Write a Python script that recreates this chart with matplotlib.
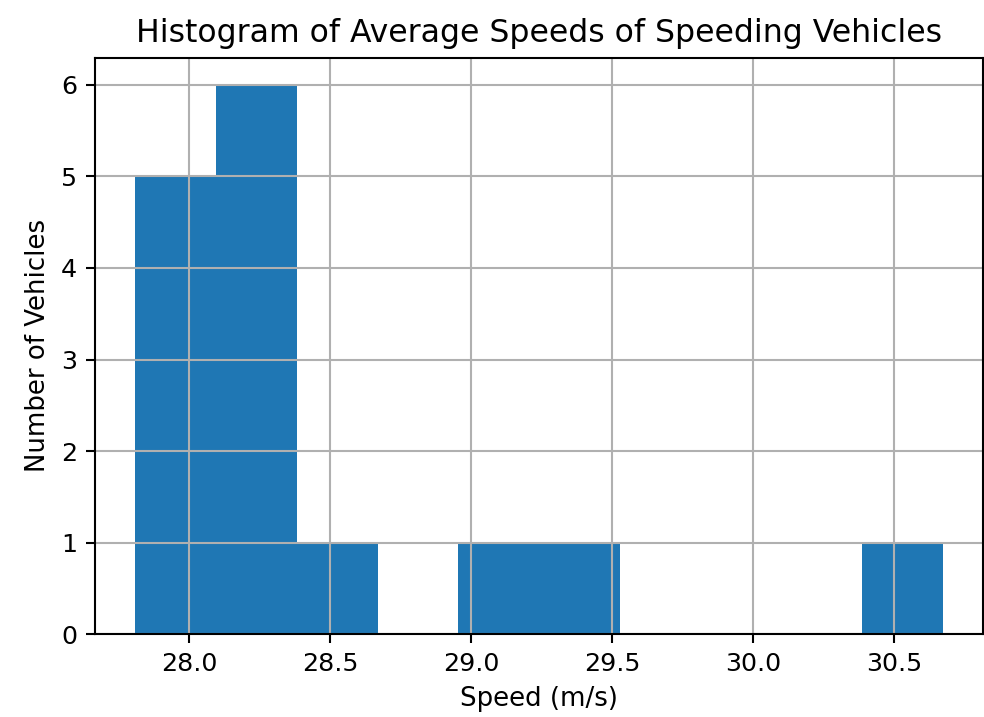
import numpy as np
import matplotlib; matplotlib.use("Agg"); import matplotlib.pyplot as plt

# histogram: 10 equal bins
bin_edges=[27.809,28.095,28.382,28.668,28.954,29.241,29.527,29.813,30.099,30.386,30.672]
counts=[5,6,1,0,1,1,0,0,0,1]
title="Histogram of Average Speeds of Speeding Vehicles"
xlabel="Speed (m/s)"; ylabel="Number of Vehicles"

fig=plt.figure(figsize=(9.84,7.17),dpi=100)
ax=fig.add_axes([0.0965,0.1157,0.9025,0.8041])
centers=[(a+b)/2 for a,b in zip(bin_edges[:-1],bin_edges[1:])]
ax.hist(centers,bins=bin_edges,weights=counts,color="#1f77b4")
ax.grid(True,lw=1.5)
for s in ax.spines.values(): s.set_linewidth(1.5)
ax.tick_params(labelsize=18.3,length=6.3,width=1.5,pad=6.5)
ax.set_title(title,fontsize=22.7,pad=11)
ax.set_xlabel(xlabel,fontsize=18.7,labelpad=7)
ax.set_ylabel(ylabel,fontsize=18.7,labelpad=7)
fig.savefig("out.png",dpi=100)
